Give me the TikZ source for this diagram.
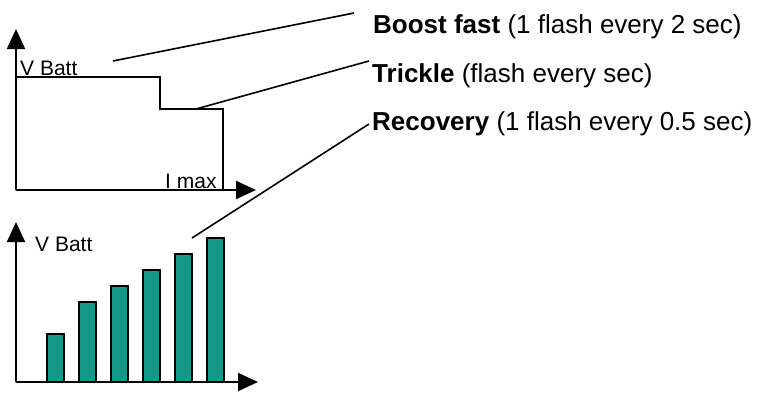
\documentclass[tikz,border=0pt]{standalone}
\usepackage{fontspec}
\setmainfont{Liberation Sans}
\usetikzlibrary{arrows.meta}
\definecolor{barteal}{RGB}{19,152,138}
\begin{document}
\begin{tikzpicture}[x=1pt,y=-1pt,
  axis/.style={line width=2pt,-{Triangle[length=20pt,width=18pt]}},
  curve/.style={line width=2pt},
  leader/.style={line width=1.6pt},
  bar/.style={fill=barteal,draw=black,line width=1.6pt},
  big/.style={font=\fontsize{26}{30}\selectfont,inner sep=0pt,anchor=base west},
  small/.style={font=\fontsize{21}{24}\selectfont,inner sep=0pt,anchor=base west}]
\useasboundingbox[fill=white] (0,0) rectangle (760,394);
% top chart
\coordinate (o1) at (16,190);
\coordinate (y1) at (16,29);
\coordinate (x1) at (256,190);
\draw[axis] (o1) -- (y1);
\draw[axis] (o1) -- (x1);
\draw[curve] (16,77) -- (160,77) -- (160,109) -- (223,109) -- (223,190);
\node[small] (vb1) at (20,75) {V Batt};
\node[small] (imax) at (165,188) {I max};
% bottom chart
\coordinate (o2) at (16,382);
\coordinate (y2) at (16,222);
\coordinate (x2) at (258,382);
\draw[axis] (o2) -- (y2);
\draw[axis] (o2) -- (x2);
\foreach \xl/\top in {47/334,79/302,111/286,143/270,175/254,207/238}
  \draw[bar] (\xl,382) rectangle ++(17,\top-382);
\node[small] (vb2) at (35,251) {V Batt};
% labels
\node[big] (boost) at (373,33) {\textbf{Boost fast} (1 flash every 2 sec)};
\node[big] (trickle) at (372,82) {\textbf{Trickle} (flash every sec)};
\node[big] (recov) at (372,130) {\textbf{Recovery} (1 flash every 0.5 sec)};
% leaders
\coordinate (lb0) at (113,61);
\coordinate (lb1) at (354,13);
\coordinate (lt0) at (196,109);
\coordinate (lt1) at (369,61);
\coordinate (lr0) at (192,238);
\coordinate (lr1) at (369,124);
\draw[leader] (lb0) -- (lb1);
\draw[leader] (lt0) -- (lt1);
\draw[leader] (lr0) -- (lr1);
\end{tikzpicture}
\end{document}
